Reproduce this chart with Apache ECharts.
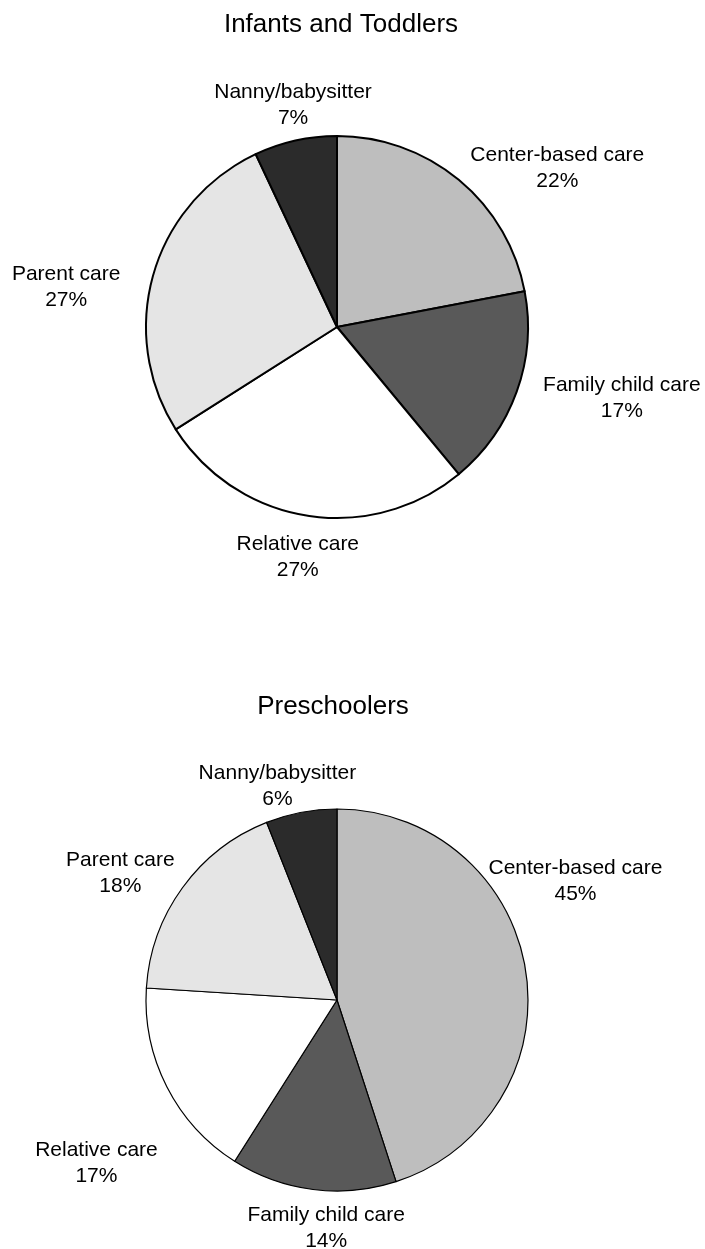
<!DOCTYPE html>
<html>
<head>
<meta charset="utf-8">
<script src="https://cdn.jsdelivr.net/npm/echarts@6/dist/echarts.min.js"></script>
<style>
  html, body { margin: 0; padding: 0; background: #ffffff; }
  #chart { width: 705px; height: 1249px; }
</style>
</head>
<body>
<div id="chart"></div>
<script>
// ---- data ----
var categories = ['Center-based care', 'Family child care', 'Relative care', 'Parent care', 'Nanny/babysitter'];
var infantsToddlers = [22, 17, 27, 27, 7];
var preschoolers = [45, 14, 17, 18, 6];
var chartTitles = ['Infants and Toddlers', 'Preschoolers'];

// ---- styles ----
var sliceColors = ['#bebebe', '#595959', '#ffffff', '#e5e5e5', '#2b2b2b'];
// label nudges (dx, dy) relative to the library's default outside label anchor
var nudgeTop = [[84, 0], [86, 1], [-2, 27], [-68, 18], [6, -21]];
var nudgeBottom = [[30, -87], [20, 24], [-52, 70], [-45, -6], [-16, -11]];

var FONT = '"Liberation Sans", Arial, Helvetica, sans-serif';

function buildData(values) {
  return categories.map(function (name, i) {
    return { name: name, value: values[i], itemStyle: { color: sliceColors[i] } };
  });
}

function pieSeries(values, center, borderWidth, nudge) {
  return {
    type: 'pie',
    center: center,
    radius: 191,
    startAngle: 90,
    clockwise: true,
    avoidLabelOverlap: false,
    silent: true,
    animation: false,
    emphasis: { disabled: true },
    itemStyle: { borderColor: '#000000', borderWidth: borderWidth },
    label: {
      show: true,
      position: 'outside',
      formatter: '{b}\n{c}%',
      color: '#000000',
      fontFamily: FONT,
      fontSize: 21,
      lineHeight: 26
    },
    labelLine: { show: false, length: 15, length2: 0 },
    labelLayout: function (p) {
      var n = nudge[p.dataIndex];
      return { align: 'center', verticalAlign: 'middle', dx: n[0], dy: n[1] };
    },
    data: buildData(values)
  };
}

var chart = echarts.init(document.getElementById('chart'), null, { renderer: 'canvas' });
chart.setOption({
  animation: false,
  backgroundColor: '#ffffff',
  title: [
    {
      text: chartTitles[0], left: 341, top: 12, textAlign: 'center', padding: 0,
      textStyle: { fontFamily: FONT, fontSize: 26, fontWeight: 'normal', color: '#000000' }
    },
    {
      text: chartTitles[1], left: 333, top: 694, textAlign: 'center', padding: 0,
      textStyle: { fontFamily: FONT, fontSize: 26, fontWeight: 'normal', color: '#000000' }
    }
  ],
  series: [
    pieSeries(infantsToddlers, [337, 327], 2, nudgeTop),
    pieSeries(preschoolers, [337, 1000], 1.2, nudgeBottom)
  ]
});
</script>
</body>
</html>
